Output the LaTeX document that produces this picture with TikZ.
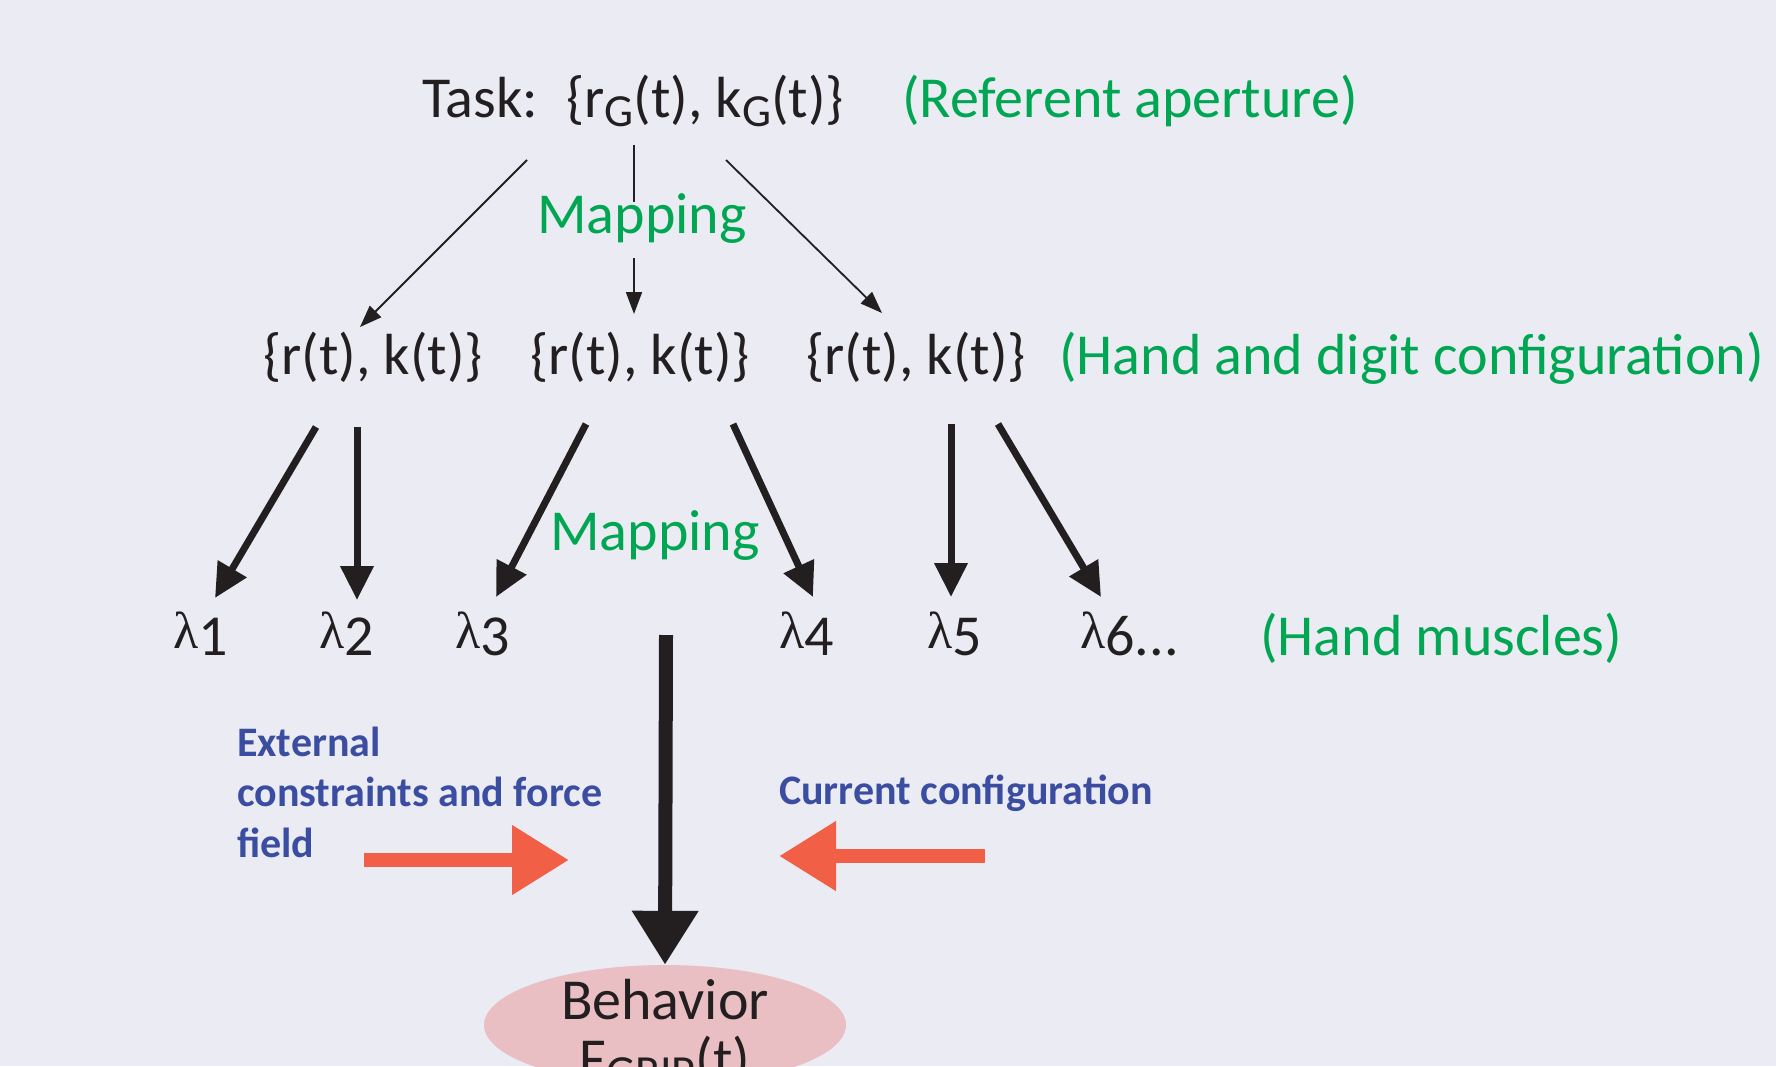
\documentclass[tikz,border=0pt]{standalone}
\usepackage{fontspec}
\setmainfont{Carlito}
\newfontfamily\lamfont{Liberation Serif}
\usetikzlibrary{arrows.meta,shapes.geometric}
\definecolor{bg}{RGB}{234,235,243}
\definecolor{ink}{RGB}{35,31,32}
\definecolor{grn}{RGB}{0,166,81}
\definecolor{blu}{RGB}{59,77,160}
\definecolor{redar}{RGB}{241,95,71}
\definecolor{pinkel}{RGB}{233,191,196}
\newcommand{\subG}[1]{\raisebox{-9pt}{\fontsize{46}{46}\selectfont #1}}
\newcommand{\lam}[1]{\raisebox{7pt}{\lamfont\fontsize{52}{52}\selectfont λ}#1}
\begin{document}
\begin{tikzpicture}[x=1pt,y=-1pt,
  txt/.style={font=\fontsize{58}{68}\selectfont, text=ink, inner sep=0pt, anchor=base west},
  gtxt/.style={txt, text=grn},
  btxt/.style={font=\fontsize{42}{51}\selectfont\bfseries, text=blu, inner sep=0pt, anchor=base west, align=left},
  thinarr/.style={draw=ink, line width=1.8pt, -{Triangle[length=22pt,width=16pt]}},
  thinline/.style={draw=ink, line width=1.8pt},
  thickarr/.style={draw=ink, line width=7pt, -{Triangle[length=34pt,width=32pt]}},
  bigarr/.style={draw=ink, line width=14pt, -{Triangle[length=54pt,width=63pt]}},
  redarr/.style={draw=redar, line width=14pt, -{Triangle[length=57pt,width=66pt]}}
]
\useasboundingbox (0,0) rectangle (1776,1066);
\clip (0,0) rectangle (1776,1066);
\fill[bg] (0,0) rectangle (1776,1066);

% top row
\node[txt] (tasklab) at (422,117) {Task:};
\node[txt] (task) at (566,117) {\{r\subG{G}(t), k\subG{G}(t)\}};
\node[gtxt] (refap) at (902,117) {(Referent aperture)};

% mapping 1
\node[gtxt, anchor=center] (map1) at (642,219) {Mapping};

% second row
\node[txt, anchor=base] (h1) at (373,374) {\{r(t), k(t)\}};
\node[txt, anchor=base] (h2) at (640,374) {\{r(t), k(t)\}};
\node[txt, anchor=base] (h3) at (916,374) {\{r(t), k(t)\}};
\node[gtxt] (hdc) at (1059,374) {(Hand and digit configuration)};

% thin arrows
\coordinate (t1s) at (527,160); \coordinate (t1e) at (360,327);
\coordinate (t2s) at (634,145); \coordinate (t2m) at (634,202);
\coordinate (t2n) at (634,258); \coordinate (t2e) at (634,314);
\coordinate (t3s) at (726,160); \coordinate (t3e) at (882,313);
\draw[thinarr] (t1s) -- (t1e);
\draw[thinline] (t2s) -- (t2m);
\draw[thinarr] (t2n) -- (t2e);
\draw[thinarr] (t3s) -- (t3e);

% mapping 2
\node[gtxt, anchor=center] (map2) at (655,536) {Mapping};

% lambda row
\node[txt] (l1) at (173,655) {\lam{1}};
\node[txt] (l2) at (319,655) {\lam{2}};
\node[txt] (l3) at (455,655) {\lam{3}};
\node[txt] (l4) at (779,655) {\lam{4}};
\node[txt] (l5) at (927,655) {\lam{5}};
\node[txt] (l6) at (1080,655) {\lam{6...}};
\node[gtxt] (hm) at (1260,655) {(Hand muscles)};

% thick arrows
\coordinate (a1s) at (316,427); \coordinate (a1e) at (215,598);
\coordinate (a2s) at (357,427); \coordinate (a2e) at (357,600);
\coordinate (a3s) at (586,424); \coordinate (a3e) at (496,597);
\coordinate (a4s) at (733,424); \coordinate (a4e) at (813,597);
\coordinate (a5s) at (951,424); \coordinate (a5e) at (951,597);
\coordinate (a6s) at (998,424); \coordinate (a6e) at (1101,597);
\draw[thickarr] (a1s) -- (a1e);
\draw[thickarr] (a2s) -- (a2e);
\draw[thickarr] (a3s) -- (a3e);
\draw[thickarr] (a4s) -- (a4e);
\draw[thickarr] (a5s) -- (a5e);
\draw[thickarr] (a6s) -- (a6e);

% blue labels
\node[btxt] (ext) at (237,857) {External\\[-0.5pt]constraints and force\\[-0.5pt]field};
\node[btxt] (cur) at (779,804) {Current configuration};

% behavior ellipse
\node[ellipse, fill=pinkel, minimum width=362pt, minimum height=120pt, inner sep=0pt] (beh) at (665,1025) {};
\node[txt, anchor=base] (behtxt) at (665,1019) {Behavior};
\node[txt, anchor=base] (fgrip) at (665,1078) {F\subG{GRIP}(t)};

% big arrow
\coordinate (bigs) at (666,635);
\draw[bigarr] (bigs) -- (beh.north);

% red arrows
\coordinate (r1s) at (364,860); \coordinate (r1e) at (569,860);
\coordinate (r2s) at (985,856); \coordinate (r2e) at (779,856);
\draw[redarr] (r1s) -- (r1e);
\draw[redarr] (r2s) -- (r2e);
\end{tikzpicture}
\end{document}
